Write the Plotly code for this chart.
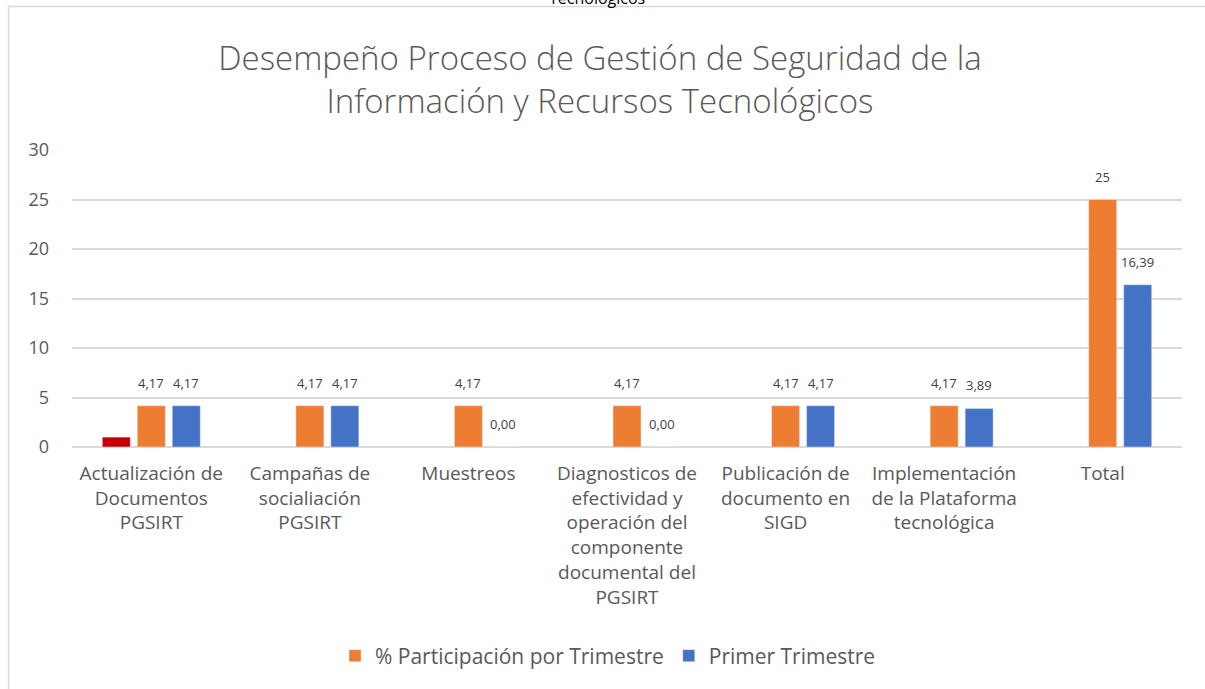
import plotly.graph_objects as go

categories = [
    "Actualización de<br>Documentos<br>PGSIRT",
    "Campañas de<br>socialiación<br>PGSIRT",
    "Muestreos",
    "Diagnosticos de<br>efectividad y<br>operación del<br>componente<br>documental del<br>PGSIRT",
    "Publicación de<br>documento en<br>SIGD",
    "Implementación<br>de la Plataforma<br>tecnológica",
    "Total",
]
serie_roja = [1, None, None, None, None, None, None]
participacion = [4.17, 4.17, 4.17, 4.17, 4.17, 4.17, 25]
primer_trimestre = [4.17, 4.17, 0.00, 0.00, 4.17, 3.89, 16.39]
etiquetas_participacion = ["4,17", "4,17", "4,17", "4,17", "4,17", "4,17", "25"]
etiquetas_primer = ["4,17", "4,17", "0,00", "0,00", "4,17", "3,89", "16,39"]

FONT = "Open Sans"
GRAY = "#595959"

fig = go.Figure()
fig.add_trace(go.Bar(x=categories, y=serie_roja, marker_color="#C00000",
                     showlegend=False, name=""))
fig.add_trace(go.Bar(x=categories, y=participacion, marker_color="#ED7D31",
                     name="% Participación por Trimestre"))
fig.add_trace(go.Bar(x=categories, y=primer_trimestre, marker_color="#4472C4",
                     name="Primer Trimestre"))

annotations = []
for c, v, t in zip(categories, participacion, etiquetas_participacion):
    annotations.append(dict(x=c, y=v, text=t, showarrow=False, xshift=0, yshift=12,
                            yanchor="bottom", font=dict(family=FONT, size=13, color="#404040")))
for c, v, t in zip(categories, primer_trimestre, etiquetas_primer):
    annotations.append(dict(x=c, y=v, text=t, showarrow=False, xshift=35, yshift=12,
                            yanchor="bottom", font=dict(family=FONT, size=13, color="#404040")))

# cut-off text at the very top
annotations.append(dict(xref="paper", yref="paper", x=(597 - 72) / 1110, y=(447 + 2) / 297,
                        text="Tecnológicos", showarrow=False, yanchor="middle",
                        font=dict(family=FONT, size=16, color="#000000")))

fig.update_layout(
    width=1205, height=689,
    margin=dict(l=72, r=23, t=150, b=242),
    paper_bgcolor="white", plot_bgcolor="white",
    barmode="group", bargap=0.338, bargroupgap=0.2,
    title=dict(text="Desempeño Proceso de Gestión de Seguridad de la<br>Información y Recursos Tecnológicos",
               x=600 / 1205, xanchor="center", y=1 - 70 / 689, yanchor="middle",
               xref="container", yref="container",
               font=dict(family=FONT, size=33, color=GRAY, weight=300)),
    font=dict(family=FONT, color=GRAY),
    xaxis=dict(tickfont=dict(size=19, color=GRAY), showgrid=False, showline=False,
               ticks="", ticklabelstandoff=13),
    yaxis=dict(range=[0, 30], dtick=5, tickfont=dict(size=18, color=GRAY),
               gridcolor="#D9D9D9", gridwidth=1.5, zeroline=True, zerolinecolor="#D9D9D9",
               zerolinewidth=1.5, showline=False, ticks="", ticklabelstandoff=22),
    legend=dict(orientation="h", x=(608 - 72) / 1110, xanchor="center",
                y=(447 - 656) / 297, yanchor="middle",
                font=dict(family=FONT, size=21, color=GRAY)),
    annotations=annotations,
    shapes=[dict(type="rect", xref="paper", yref="paper",
                 x0=(8.5 - 72) / 1110, x1=(1225 - 72) / 1110,
                 y0=(447 - 710) / 297, y1=(447 - 6.5) / 297,
                 line=dict(color="#D9D9D9", width=1.5), fillcolor="rgba(0,0,0,0)", layer="below")],
)

fig.write_html("out.html", config={"displayModeBar": False},
               post_script="document.body.style.margin='0';document.body.style.overflow='hidden';")
